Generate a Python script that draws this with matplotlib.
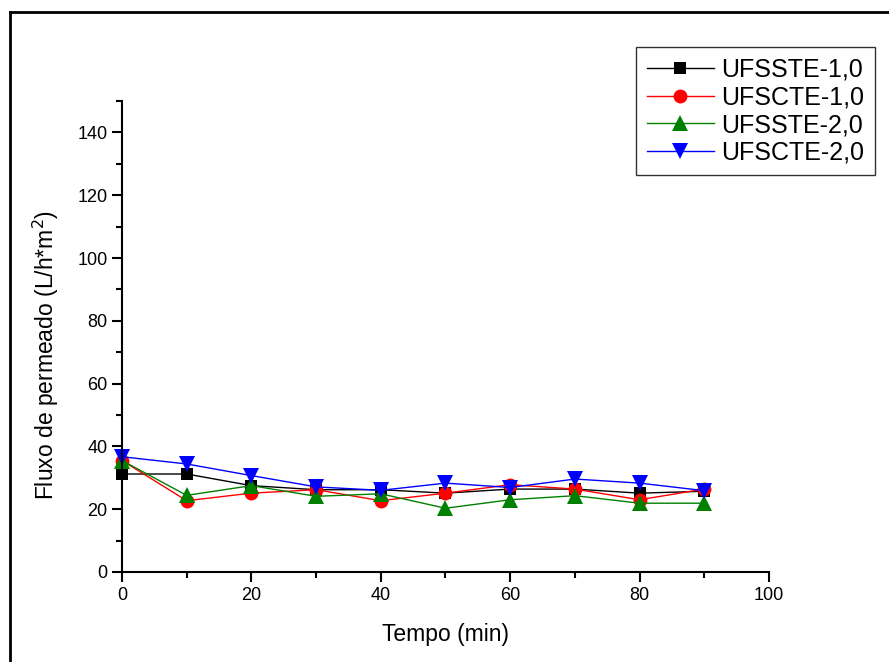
import matplotlib.pyplot as plt
from matplotlib.lines import Line2D

plt.rcParams['font.family'] = ['Liberation Sans', 'DejaVu Sans']

# tempo (min)
tempo = [0, 10, 20, 30, 40, 50, 60, 70, 80, 90]

# fluxo de permeado (L/h*m2)
ufsste_1 = [31.2, 31.2, 27.5, 26.2, 26.2, 25.1, 26.4, 26.4, 25.1, 25.7]
ufscte_1 = [35.5, 22.7, 25.1, 26.2, 22.7, 25.1, 27.8, 26.4, 23.0, 26.4]
ufsste_2 = [35.5, 24.4, 27.5, 24.1, 24.9, 20.3, 23.0, 24.3, 21.9, 21.9]
ufscte_2 = [36.7, 34.4, 30.7, 27.1, 26.0, 28.3, 26.9, 29.6, 28.3, 25.9]

labels = ['UFSSTE-1,0', 'UFSCTE-1,0', 'UFSSTE-2,0', 'UFSCTE-2,0']
series = [ufsste_1, ufscte_1, ufsste_2, ufscte_2]
colors = ['black', 'red', 'green', 'blue']
markers = ['s', 'o', '^', 'v']
msizes = [8, 10, 11, 11]

fig = plt.figure(figsize=(8.89, 6.62), dpi=100)
ax = fig.add_axes([0.1372, 0.136, 0.7278, 0.7114])

for y, lab, c, m, ms in zip(series, labels, colors, markers, msizes):
    ax.plot(tempo, y, color=c, marker=m, markersize=ms, linewidth=1,
            markeredgewidth=0, label=lab, clip_on=False)

ax.set_xlim(0, 100)
ax.set_ylim(0, 150)
ax.set_xticks([0, 20, 40, 60, 80, 100])
ax.set_xticks([10, 30, 50, 70, 90], minor=True)
ax.set_yticks([0, 20, 40, 60, 80, 100, 120, 140])
ax.set_yticks([10, 30, 50, 70, 90, 110, 130, 150], minor=True)
ax.spines['top'].set_visible(False)
ax.spines['right'].set_visible(False)
for s in ['left', 'bottom']:
    ax.spines[s].set_linewidth(1.5)
ax.tick_params(which='major', direction='out', length=7, width=1.5, labelsize=13)
ax.tick_params(which='minor', direction='out', length=4, width=1.5)

ax.set_xlabel('Tempo (min)', fontsize=16.5, labelpad=14)
ax.set_ylabel('Fluxo de permeado (L/h*m$^2$)', fontsize=16.5)
ax.yaxis.set_label_coords(-0.094, 0.46)

leg = ax.legend(loc='upper left', bbox_to_anchor=(636 / 889, 1 - 47 / 662),
                bbox_transform=fig.transFigure, borderaxespad=0, fontsize=18,
                frameon=True, fancybox=False, edgecolor='black',
                handlelength=2.7, borderpad=0.42, labelspacing=0.15,
                handletextpad=0.3)
leg.get_frame().set_linewidth(1.0)

# outer frame (left and top edges only visible)
fig.add_artist(Line2D([10 / 889, 10 / 889], [0, 1 - 12 / 662],
                      transform=fig.transFigure, color='black', linewidth=2))
fig.add_artist(Line2D([10 / 889, 1], [1 - 12 / 662, 1 - 12 / 662],
                      transform=fig.transFigure, color='black', linewidth=2))

fig.savefig('out.png', dpi=100)
